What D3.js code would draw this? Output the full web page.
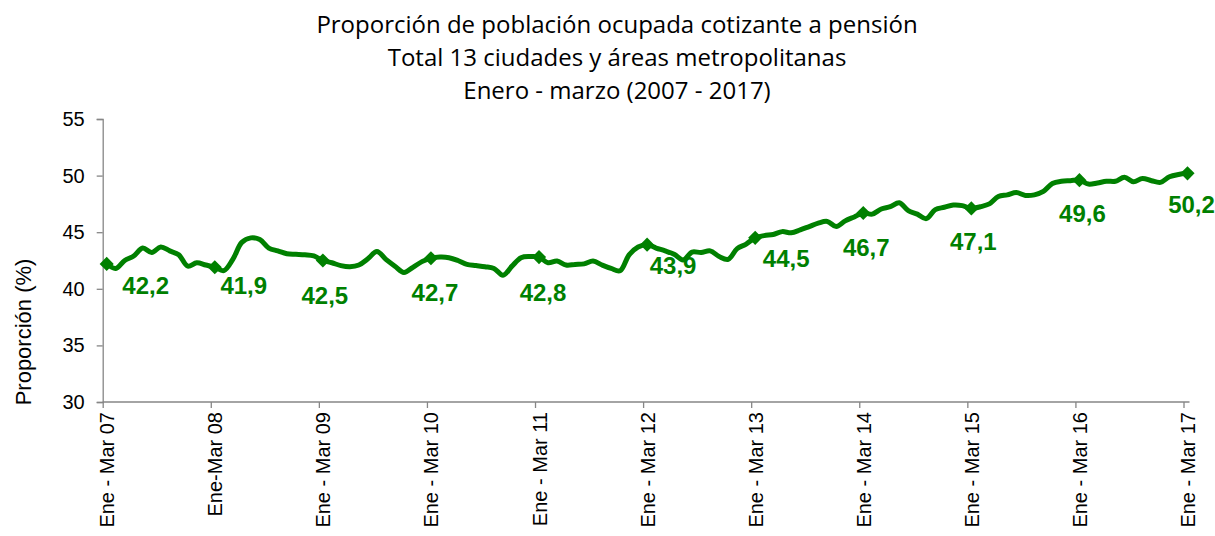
<!DOCTYPE html>
<html>
<head>
<meta charset="utf-8">
<script src="https://cdn.jsdelivr.net/npm/d3@7"></script>
<style>
  html, body { margin: 0; padding: 0; background: #fff; }
  svg { display: block; }
</style>
</head>
<body>
<svg id="chart" width="1215" height="536"></svg>
<script>
// ---- DATA ----
const titleLines = [
  "Proporción de población ocupada cotizante a pensión",
  "Total 13 ciudades y áreas metropolitanas",
  "Enero - marzo (2007 - 2017)"
];
const yLabel = "Proporción (%)";
const yTicks = [30, 35, 40, 45, 50, 55];
const tickLabels = ["Ene - Mar 07", "Ene-Mar 08", "Ene - Mar 09", "Ene - Mar 10", "Ene - Mar 11",
  "Ene - Mar 12", "Ene - Mar 13", "Ene - Mar 14", "Ene - Mar 15", "Ene - Mar 16", "Ene - Mar 17"];
// rolling quarters, monthly steps: Ene-Mar 07 ... Ene-Mar 17 (121 periods)
const values = [
  42.2, 41.8, 42.5, 42.9, 43.6, 43.2, 43.7, 43.35, 43.0, 42.0, 42.3, 42.1, 41.9,
  41.6, 42.6, 44.1, 44.5, 44.35, 43.6, 43.35, 43.1, 43.05, 43.0, 42.9, 42.5,
  42.3, 42.05, 41.95, 42.1, 42.65, 43.3, 42.6, 42.0, 41.45, 41.9, 42.4, 42.7,
  42.8, 42.75, 42.5, 42.15, 42.05, 41.95, 41.8, 41.2, 42.0, 42.75, 42.85, 42.8,
  42.3, 42.45, 42.1, 42.15, 42.2, 42.45, 42.1, 41.8, 41.6, 43.0, 43.7, 43.9,
  43.6, 43.35, 43.05, 42.55, 43.25, 43.2, 43.35, 42.85, 42.6, 43.55, 43.95, 44.5,
  44.7, 44.8, 45.05, 44.95, 45.2, 45.5, 45.8, 45.95, 45.5, 46.0, 46.35, 46.7,
  46.6, 47.05, 47.25, 47.6, 46.9, 46.6, 46.2, 47.0, 47.2, 47.4, 47.35, 47.1,
  47.25, 47.5, 48.15, 48.3, 48.5, 48.25, 48.3, 48.6, 49.3, 49.5, 49.55, 49.6,
  49.25, 49.35, 49.5, 49.5, 49.85, 49.45, 49.75, 49.55, 49.4, 49.9, 50.1, 50.2
];
const markedValues = [42.2, 41.9, 42.5, 42.7, 42.8, 43.9, 44.5, 46.7, 47.1, 49.6, 50.2];
// label placement offsets relative to each marker (layout only)
const labelOffsets = [[39, 21], [29, 18], [2, 35], [4, 34], [4, 35], [26, 21], [31, 20], [3, 34], [2, 33], [3, 33], [4, 31]];

// ---- LAYOUT ----
const svg = d3.select("#chart");
const green = "#008000";
const axisColor = "#868686";
const plotTop = 119, plotBottom = 402;
const tickX0 = 102.7, tickX1 = 1183.5, dataShift = 4;

const y = d3.scaleLinear().domain([30, 55]).range([plotBottom, plotTop]);
const xTick = d3.scalePoint().domain(tickLabels).range([tickX0, tickX1]);
const x = d3.scaleLinear().domain([0, values.length - 1]).range([tickX0 + dataShift, tickX1 + dataShift]);

// title
const title = svg.append("text")
  .attr("text-anchor", "middle")
  .attr("font-family", "'Open Sans', sans-serif")
  .attr("font-size", 24)
  .attr("fill", "#000");
titleLines.forEach((t, i) => {
  title.append("tspan").attr("x", 617).attr("y", 33 + i * 33).text(t);
});

// y axis
const yAxis = svg.append("g")
  .attr("transform", `translate(${tickX0},0)`)
  .call(d3.axisLeft(y).tickValues(yTicks).tickSize(6).tickPadding(12));
yAxis.select(".domain").attr("stroke", axisColor).attr("stroke-width", 1.3);
yAxis.selectAll(".tick line").attr("stroke", axisColor).attr("stroke-width", 1.3);
yAxis.selectAll(".tick text")
  .attr("font-family", "'Liberation Sans', Arial, sans-serif")
  .attr("font-size", 20)
  .attr("fill", "#000");

// x axis
const xAxis = svg.append("g")
  .attr("transform", `translate(0,${plotBottom})`)
  .call(d3.axisBottom(xTick).tickSize(6).tickSizeOuter(0));
xAxis.select(".domain").attr("stroke", axisColor).attr("stroke-width", 1.3)
  .attr("d", `M${tickX0},0H${tickX1 + 6}`);
xAxis.selectAll(".tick line").attr("stroke", axisColor).attr("stroke-width", 1.3);
xAxis.selectAll(".tick text")
  .attr("font-family", "'Liberation Sans', Arial, sans-serif")
  .attr("font-size", 20)
  .attr("fill", "#000")
  .attr("text-anchor", "end")
  .attr("transform", "rotate(-90)")
  .attr("x", -10)
  .attr("y", dataShift)
  .attr("dy", "0.35em");

// y title
svg.append("text")
  .attr("transform", "translate(31,332) rotate(-90)")
  .attr("text-anchor", "middle")
  .attr("font-family", "'Liberation Sans', Arial, sans-serif")
  .attr("font-size", 22)
  .attr("fill", "#000")
  .text(yLabel);

// line
const line = d3.line()
  .x((d, i) => x(i))
  .y(d => y(d))
  .curve(d3.curveCatmullRom.alpha(0.5));
svg.append("path")
  .datum(values)
  .attr("d", line)
  .attr("fill", "none")
  .attr("stroke", green)
  .attr("stroke-width", 5)
  .attr("stroke-linejoin", "round")
  .attr("stroke-linecap", "round");

// markers
const markIdx = markedValues.map((v, k) => k * 12);
svg.append("g").selectAll("path")
  .data(markedValues)
  .join("path")
  .attr("d", d3.symbol(d3.symbolSquare, 100))
  .attr("transform", (d, k) => `translate(${x(markIdx[k])},${y(d)}) rotate(45)`)
  .attr("fill", green);

// value labels
svg.append("g").selectAll("text")
  .data(markedValues)
  .join("text")
  .attr("x", (d, k) => x(markIdx[k]) + labelOffsets[k][0])
  .attr("y", (d, k) => y(d) + labelOffsets[k][1])
  .attr("dy", "0.36em")
  .attr("text-anchor", "middle")
  .attr("font-family", "'Liberation Sans', Arial, sans-serif")
  .attr("font-weight", "bold")
  .attr("font-size", 24)
  .attr("fill", green)
  .text(d => d.toFixed(1).replace(".", ","));
</script>
</body>
</html>
